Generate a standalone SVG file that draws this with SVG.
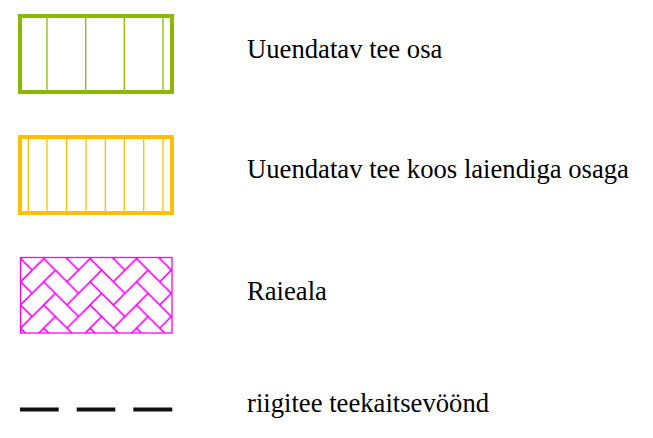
<svg xmlns="http://www.w3.org/2000/svg" width="653" height="438" viewBox="0 0 653 438">
<style>
.lbl{font-family:"Liberation Serif","Times New Roman",serif;font-size:26.67px;fill:#000}
.gr{fill:none;stroke:#8CB800;stroke-width:4}
.gri{stroke:#8CB800;stroke-width:1.3}
.ye{fill:none;stroke:#FFC000;stroke-width:4}
.yei{stroke:#FFC000;stroke-width:1.3}
.dash{stroke:#111;stroke-width:4}
</style>
<defs>
<pattern id="herr" patternUnits="userSpaceOnUse" width="4" height="2" patternTransform="translate(43.75,258.55) scale(11.6)">
<g id="cell" fill="none" stroke="#FF00FF" stroke-width="0.11">
<polygon points="0,0 2,2 3,1 1,-1"/>
<polygon points="2,2 3,3 5,1 4,0"/>
</g>
<use href="#cell" x="-4" y="-2"/>
<use href="#cell" x="0" y="-2"/>
<use href="#cell" x="4" y="-2"/>
<use href="#cell" x="-4" y="0"/>
<use href="#cell" x="4" y="0"/>
<use href="#cell" x="-4" y="2"/>
<use href="#cell" x="0" y="2"/>
<use href="#cell" x="4" y="2"/>
</pattern>
</defs>
<g id="legend-green">
<rect class="gr" x="20" y="16" width="152" height="76"/>
<line class="gri" x1="47" y1="18" x2="47" y2="90"/>
<line class="gri" x1="85.7" y1="18" x2="85.7" y2="90"/>
<line class="gri" x1="124.3" y1="18" x2="124.3" y2="90"/>
<line class="gri" x1="163" y1="18" x2="163" y2="90"/>
<text class="lbl" x="247" y="57.7">Uuendatav tee osa</text>
</g>
<g id="legend-yellow">
<rect class="ye" x="20" y="137" width="152" height="76"/>
<line class="yei" x1="28.3" y1="139" x2="28.3" y2="211"/>
<line class="yei" x1="47" y1="139" x2="47" y2="211"/>
<line class="yei" x1="66.7" y1="139" x2="66.7" y2="211"/>
<line class="yei" x1="86" y1="139" x2="86" y2="211"/>
<line class="yei" x1="105.3" y1="139" x2="105.3" y2="211"/>
<line class="yei" x1="124.3" y1="139" x2="124.3" y2="211"/>
<line class="yei" x1="143.7" y1="139" x2="143.7" y2="211"/>
<line class="yei" x1="163" y1="139" x2="163" y2="211"/>
<text class="lbl" x="247" y="177.7">Uuendatav tee koos laiendiga osaga</text>
</g>
<g id="legend-magenta">
<rect x="20.5" y="257.5" width="151.5" height="75.5" fill="url(#herr)" stroke="#FF00FF" stroke-width="1.3"/>
<text class="lbl" x="247" y="300">Raieala</text>
</g>
<g id="legend-dashed">
<line class="dash" x1="20" y1="409.5" x2="58.7" y2="409.5"/>
<line class="dash" x1="76.7" y1="409.5" x2="115.3" y2="409.5"/>
<line class="dash" x1="133.3" y1="409.5" x2="172.3" y2="409.5"/>
<text class="lbl" x="247" y="412.3">riigitee teekaitsevöönd</text>
</g>
</svg>
